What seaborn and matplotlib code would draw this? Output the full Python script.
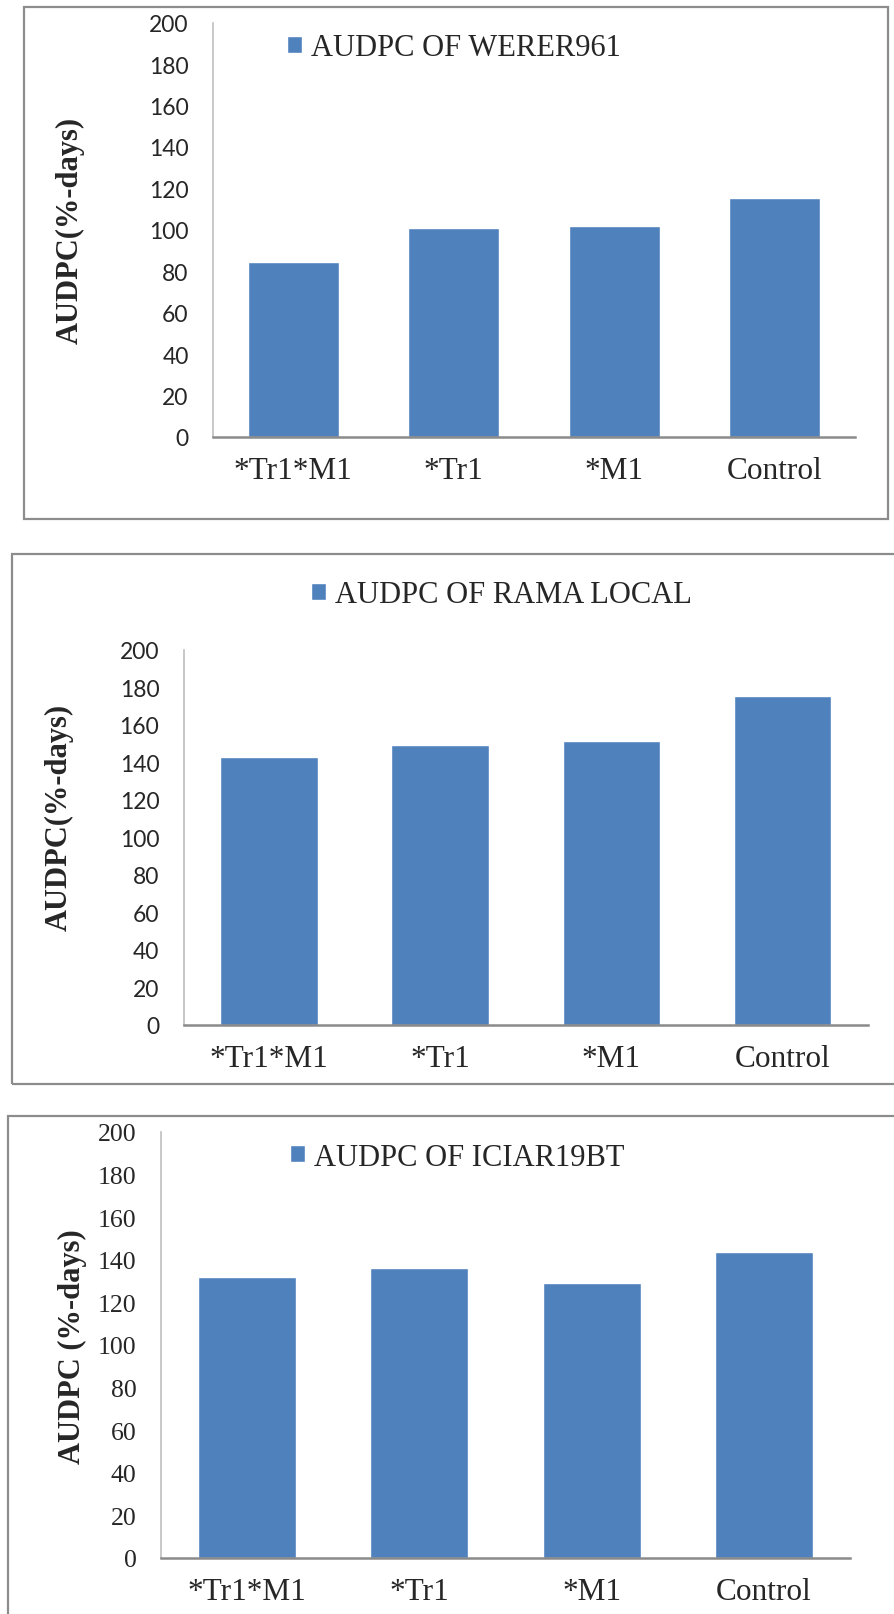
import matplotlib.pyplot as plt
import matplotlib.patches as mpatches
import pandas as pd
import seaborn as sns

sns.set_theme(style="white")
plt.rcParams["font.family"] = ["Liberation Serif", "DejaVu Serif"]

# data
treatments = ["*Tr1*M1", "*Tr1", "*M1", "Control"]
werer961 = [84.3, 100.9, 101.7, 115.2]
rama_local = [142.7, 149.5, 151.4, 175.4]
iciar19bt = [131.7, 136.2, 129.0, 143.8]

series_names = ["AUDPC OF WERER961", "AUDPC OF RAMA LOCAL", "AUDPC OF ICIAR19BT"]
ylabels = ["AUDPC(%-days)", "AUDPC(%-days)", "AUDPC (%-days)"]
yticks = list(range(0, 201, 20))

BAR_COLOR = "#4F81BD"
W, H = 894, 1615

fig = plt.figure(figsize=(W / 100, H / 100), dpi=100)


def px_axes(left, top, right, bottom):
    """Axes rect from pixel edges (top-left origin)."""
    return fig.add_axes([left / W, 1 - bottom / H, (right - left) / W, (bottom - top) / H])


def px_box(left, top, right, bottom):
    rect = mpatches.Rectangle((left / W, 1 - bottom / H), (right - left) / W, (bottom - top) / H,
                              transform=fig.transFigure, fill=False, ec="#8C8C8C", lw=1.6)
    fig.patches.append(rect)


# panel layout: box, axes, legend anchor, ylabel position (axes coords), y tick font
panels = [
    dict(box=(24, 7.5, 888, 520), ax=(213, 23.6, 855, 438), leg=(287, 49), lab=(-0.223, 0.502),
         tfont="Lato", tsize=16.5),
    dict(box=(12, 555, 905, 1085), ax=(183.6, 651, 868, 1026), leg=(311, 596), lab=(-0.182, 0.555),
         tfont="Lato", tsize=16.5),
    dict(box=(8, 1117, 905, 1625), ax=(161, 1133, 850, 1559), leg=(290, 1158), lab=(-0.128, 0.498),
         tfont="Liberation Serif", tsize=18.5),
]
values = [werer961, rama_local, iciar19bt]

for p, vals, name, ylab in zip(panels, values, series_names, ylabels):
    px_box(*p["box"])
    ax = px_axes(*p["ax"])
    df = pd.DataFrame({"treatment": treatments, "AUDPC": vals, "series": name})
    sns.barplot(data=df, x="treatment", y="AUDPC", hue="series", palette=[BAR_COLOR],
                saturation=1, width=0.57, dodge=False, ax=ax)

    ax.set_ylim(0, 200)
    ax.set_xlim(-0.5, 3.5)
    ax.set_yticks(yticks)
    ax.tick_params(axis="y", length=0, pad=17.5)
    ax.tick_params(axis="x", length=0, pad=14, labelsize=22.5)
    for lbl in ax.get_yticklabels():
        lbl.set_fontfamily(p["tfont"])
        lbl.set_fontsize(p["tsize"])
    ax.set_xlabel("")
    ax.set_ylabel(ylab, fontsize=22, fontweight="bold", va="center")
    ax.yaxis.set_label_coords(*p["lab"])

    for side in ["top", "right"]:
        ax.spines[side].set_visible(False)
    ax.spines["left"].set_color("#BFBFBF")
    ax.spines["left"].set_linewidth(1.2)
    ax.spines["bottom"].set_color("#8A8A8A")
    ax.spines["bottom"].set_linewidth(1.8)

    lx, ly = p["leg"]
    ax.legend(loc="center left", bbox_to_anchor=(lx / W, 1 - ly / H), bbox_transform=fig.transFigure,
              frameon=False, fontsize=22, handlelength=0.5, handleheight=0.5,
              handletextpad=0.3, borderpad=0, borderaxespad=0)

fig.savefig("out.png", dpi=100, facecolor="white")
